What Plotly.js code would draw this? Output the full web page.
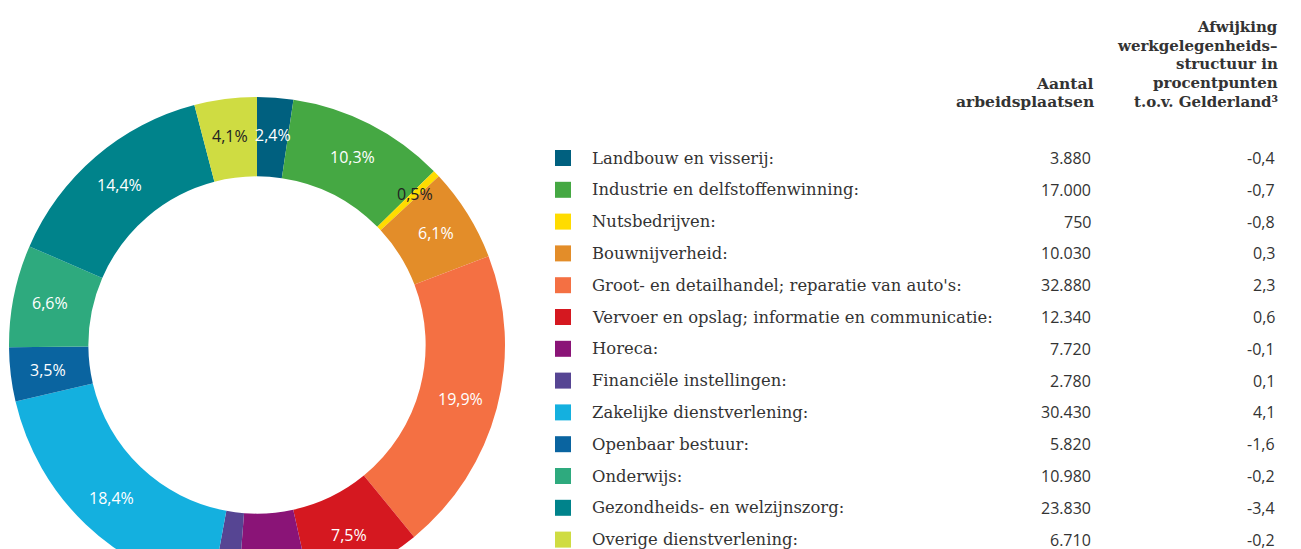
<!DOCTYPE html>
<html><head><meta charset="utf-8">
<script src="https://cdn.plot.ly/plotly-3.0.1.min.js"></script>
<style>html,body{margin:0;padding:0;overflow:hidden;background:#fff}</style>
</head><body>
<div id="chart" style="width:1301px;height:700px"></div>
<script>
const categories = [
  "Landbouw en visserij:",
  "Industrie en delfstoffenwinning:",
  "Nutsbedrijven:",
  "Bouwnijverheid:",
  "Groot- en detailhandel; reparatie van auto's:",
  "Vervoer en opslag; informatie en communicatie:",
  "Horeca:",
  "Financiële instellingen:",
  "Zakelijke dienstverlening:",
  "Openbaar bestuur:",
  "Onderwijs:",
  "Gezondheids- en welzijnszorg:",
  "Overige dienstverlening:"
];
const jobs = [3880, 17000, 750, 10030, 32880, 12340, 7720, 2780, 30430, 5820, 10980, 23830, 6710];
const shares = [2.4, 10.3, 0.5, 6.1, 19.9, 7.5, 4.7, 1.7, 18.4, 3.5, 6.6, 14.4, 4.1];
const deviation = [-0.4, -0.7, -0.8, 0.3, 2.3, 0.6, -0.1, 0.1, 4.1, -1.6, -0.2, -3.4, -0.2];
const colors = ["#00607f", "#45a843", "#ffdc00", "#e38d29", "#f47043", "#d51820", "#8a1477", "#564593", "#14b0df", "#0a64a0", "#2eaa7e", "#00838b", "#cfdc42"];
const textColors = ["#ffffff", "#ffffff", "#222222", "#ffffff", "#ffffff", "#ffffff", "#ffffff", "#ffffff", "#ffffff", "#ffffff", "#ffffff", "#ffffff", "#222222"];
const headerJobsLines = ["Aantal", "arbeidsplaatsen"];
const headerDevLines = ["Afwijking", "werkgelegenheids–", "structuur in", "procentpunten", "t.o.v. Gelderland³"];

const W = 1301, H = 700, VISIBLE_H = 549;
const total = jobs.reduce((a, b) => a + b, 0);
const fmtPct = v => v.toFixed(1).replace('.', ',') + '%';
const fmtInt = v => String(v).replace(/\B(?=(\d{3})+(?!\d))/g, '.');
const fmtDev = v => v.toFixed(1).replace('.', ',');

// pie geometry (pixels)
const cx = 257, cy = 345, r = 248, hole = 0.68, labelR = 211;

const px = x => x / W;
const py = y => 1 - y / H;

const trace = {
  type: 'pie',
  values: jobs,
  labels: categories,
  textinfo: 'none',
  hole: hole,
  sort: false,
  direction: 'clockwise',
  rotation: 0,
  marker: { colors: colors, line: { width: 0 } },
  hoverinfo: 'none',
  showlegend: false,
  domain: { x: [px(cx - r), px(cx + r)], y: [py(cy + r), py(cy - r)] }
};

const annotations = [];
const shapes = [];

// slice percentage labels at mid-angle of each slice
let cum = 0;
jobs.forEach((v, i) => {
  const th = 2 * Math.PI * (cum + v / 2) / total;
  cum += v;
  const rr = (v / total < 0.01) ? labelR + 8 : labelR; // thin slice label sits a bit further out
  const lx = cx + rr * Math.sin(th);
  const ly = cy - rr * Math.cos(th);
  if (ly > VISIBLE_H - 6) return; // falls below the visible page
  annotations.push({ xref: 'paper', yref: 'paper', x: px(lx), y: py(ly), xanchor: 'center', yanchor: 'middle',
    text: fmtPct(shares[i]), showarrow: false,
    font: { family: 'Open Sans, sans-serif', size: 16, color: textColors[i] } });
});

const rowY0 = 158, rowStep = 31.8;
categories.forEach((c, i) => {
  const y = rowY0 + i * rowStep;
  shapes.push({ type: 'rect', xref: 'paper', yref: 'paper', x0: px(555), x1: px(571), y0: py(y + 8), y1: py(y - 8), fillcolor: colors[i], line: { width: 0 } });
  annotations.push({ xref: 'paper', yref: 'paper', x: px(590), y: py(y), xanchor: 'left', yanchor: 'middle', text: c, showarrow: false, font: { family: 'DejaVu Serif, serif', size: 16.4, color: '#333333' } });
  annotations.push({ xref: 'paper', yref: 'paper', x: px(1093), y: py(y), xanchor: 'right', yanchor: 'middle', text: fmtInt(jobs[i]), showarrow: false, font: { family: 'Open Sans, sans-serif', size: 16, color: '#333333' } });
  annotations.push({ xref: 'paper', yref: 'paper', x: px(1277), y: py(y), xanchor: 'right', yanchor: 'middle', text: fmtDev(deviation[i]), showarrow: false, font: { family: 'Open Sans, sans-serif', size: 16, color: '#333333' } });
});

const headLineStep = 18.8, headLastY = 102;
headerJobsLines.forEach((t, k) => {
  const y = headLastY - (headerJobsLines.length - 1 - k) * headLineStep;
  annotations.push({ xref: 'paper', yref: 'paper', x: px(1096), y: py(y), xanchor: 'right', yanchor: 'middle', text: t, showarrow: false, font: { family: 'DejaVu Serif, serif', size: 15.5, color: '#333333', weight: 'bold' } });
});
headerDevLines.forEach((t, k) => {
  const y = headLastY - (headerDevLines.length - 1 - k) * headLineStep;
  annotations.push({ xref: 'paper', yref: 'paper', x: px(1280), y: py(y), xanchor: 'right', yanchor: 'middle', text: t, showarrow: false, font: { family: 'DejaVu Serif, serif', size: 15, color: '#333333', weight: 'bold' } });
});

const layout = {
  width: W, height: H,
  margin: { l: 0, r: 0, t: 0, b: 0 },
  paper_bgcolor: '#ffffff',
  showlegend: false,
  annotations: annotations,
  shapes: shapes
};
Plotly.newPlot('chart', [trace], layout, { displayModeBar: false, staticPlot: true });
</script>
</body></html>
